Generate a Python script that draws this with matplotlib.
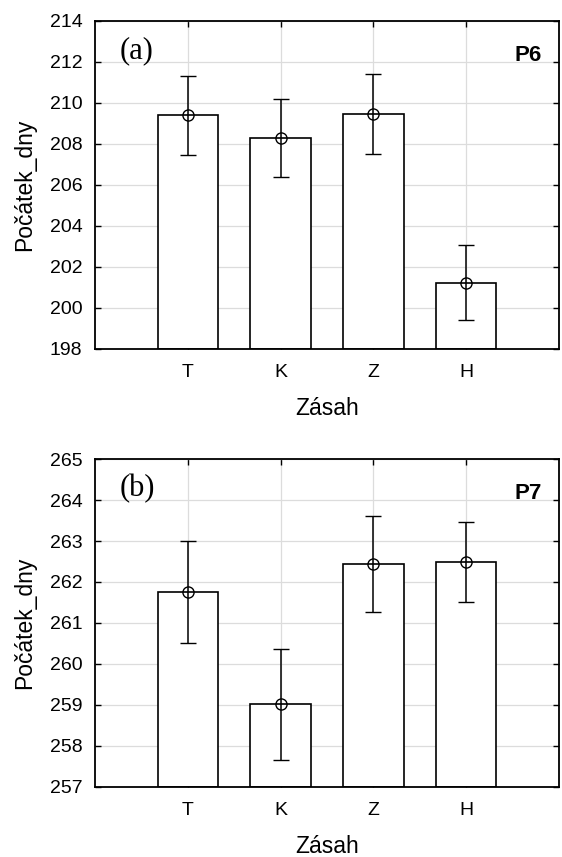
import matplotlib.pyplot as plt

plt.rcParams['font.family'] = ['Liberation Sans', 'DejaVu Sans']

# Zásah (treatment) categories
categories = ['T', 'K', 'Z', 'H']

# panel (a) P6 - means and error bar limits
p6_mean = [209.40, 208.29, 209.44, 201.24]
p6_upper = [211.31, 210.19, 211.39, 203.09]
p6_lower = [207.47, 206.39, 207.51, 199.39]

# panel (b) P7
p7_mean = [261.76, 259.02, 262.44, 262.48]
p7_upper = [263.00, 260.37, 263.62, 263.46]
p7_lower = [260.52, 257.67, 261.26, 261.50]

panels = [
    ('(a)', 'P6', p6_mean, p6_lower, p6_upper, (198, 214), range(198, 215, 2)),
    ('(b)', 'P7', p7_mean, p7_lower, p7_upper, (257, 265), range(257, 266, 1)),
]

fig = plt.figure(figsize=(5.62, 8.57), dpi=100)
ax_rects = [[0.169, 0.5928, 0.8256, 0.3827], [0.169, 0.0817, 0.8256, 0.3827]]

for rect, (tag, name, mean, lo, hi, ylim, yt) in zip(ax_rects, panels):
    ax = fig.add_axes(rect)
    x = list(range(1, len(categories) + 1))
    bottom = ylim[0]
    ax.bar(x, [m - bottom for m in mean], bottom=bottom, width=0.65,
           color='white', edgecolor='black', linewidth=1.2, zorder=2)
    yerr = [[m - l for m, l in zip(mean, lo)], [h - m for m, h in zip(mean, hi)]]
    ax.errorbar(x, mean, yerr=yerr, fmt='o', mfc='none', mec='black',
                ms=8, mew=1.0, ecolor='black', elinewidth=1.1, capsize=6,
                capthick=1.1, zorder=3)
    ax.set_xlim(0, 5)
    ax.set_ylim(*ylim)
    ax.set_yticks(list(yt))
    ax.set_xticks(x)
    ax.set_xticklabels(categories)
    ax.grid(True, color='#dcdcdc', linewidth=0.9, zorder=0)
    ax.set_axisbelow(True)
    ax.tick_params(direction='in', top=True, right=True, length=4,
                   width=1, labelsize=14, pad=9)
    ax.tick_params(axis='x', pad=11)
    for s in ax.spines.values():
        s.set_linewidth(1.3)
    ax.set_ylabel('Počátek_dny', fontsize=16.5, labelpad=10)
    ax.set_xlabel('Zásah', fontsize=16.5, labelpad=11)
    ax.text(0.054, 0.91, tag, transform=ax.transAxes, fontsize=22,
            family='Liberation Serif', va='center', ha='left')
    ax.text(0.963, 0.896, name, transform=ax.transAxes, fontsize=16,
            fontweight='bold', va='center', ha='right')

fig.savefig('out.png', dpi=100)
